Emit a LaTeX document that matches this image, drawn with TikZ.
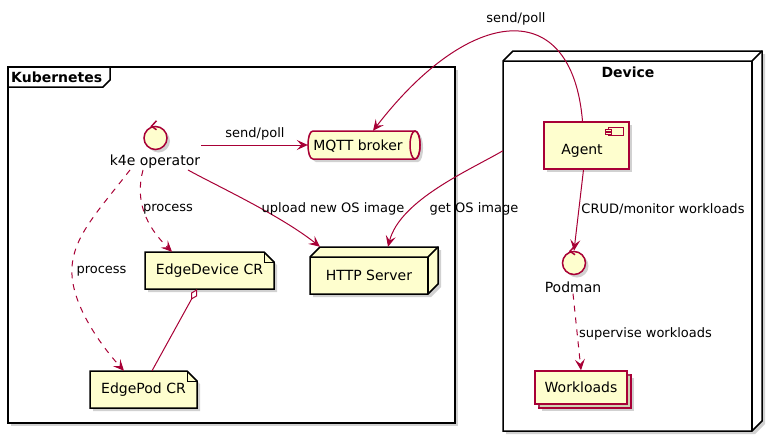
\documentclass[tikz,border=0pt]{standalone}
\usepackage{fontspec}
\setmainfont{DejaVu Sans}
\usetikzlibrary{arrows.meta,shadows,calc}
\definecolor{pfill}{HTML}{FEFECE}
\definecolor{pred}{HTML}{A80036}
\tikzset{
  dshadow/.style={drop shadow={shadow xshift=3pt, shadow yshift=-3pt, fill=black!45, opacity=0.4}},
  redshape/.style={draw=pred, fill=pfill, line width=1.5pt, dshadow},
  blkshape/.style={draw=black, fill=pfill, line width=1.5pt, dshadow},
  frameshape/.style={draw=black, fill=white, line width=1.5pt, dshadow},
  anchorbox/.style={draw=none, fill=none, inner sep=0pt},
  txt/.style={font=\fontsize{14}{16}\selectfont, inner sep=1pt},
  lbl/.style={font=\fontsize{13}{15}\selectfont, inner sep=1pt},
  boldtxt/.style={font=\bfseries\fontsize{14}{16}\selectfont, inner sep=0pt},
  conn/.style={draw=pred, line width=1pt, -{Stealth[length=11pt,width=10pt,inset=4.5pt]}},
  dconn/.style={conn, dash pattern=on 6pt off 6pt},
}
\begin{document}
\begin{tikzpicture}[x=1pt, y=-1pt]
\useasboundingbox (0,0) rectangle (776,437);

% ---------- Kubernetes frame ----------
\node[frameshape, minimum width=447pt, minimum height=356pt, inner sep=0pt] (k8s) at (231.5,245) {};
\draw[line width=1.5pt] (8,87) -- (103,87) -- (110,80) -- (110,67);
\node[boldtxt, anchor=west] (k8stitle) at (11,77) {Kubernetes};

% ---------- Device node ----------
\path[frameshape] (503,61) -- (513,51) -- (762,51) -- (762,421) -- (752,431) -- (503,431) -- cycle;
\draw[line width=1.5pt] (503,61) -- (752,61) -- (762,51);
\draw[line width=1.5pt] (752,61) -- (752,431);
\node[anchorbox, minimum width=249pt, minimum height=370pt] (device) at (627.5,246) {};
\node[boldtxt] (devtitle) at (628,72) {Device};

% ---------- k4e operator (control) ----------
\node[redshape, circle, minimum size=23pt, inner sep=0pt] (k4e) at (155.5,138) {};
\draw[pred, line width=1.5pt] ($(k4e.north)+(1,-5)$) -- ($(k4e.north)+(-4,0.5)$) -- ($(k4e.north)+(1,4)$);
\node[txt] (k4elbl) at (155,162) {k4e operator};

% ---------- MQTT broker (queue) ----------
\path[redshape] (313,131) -- (415,131) .. controls (421.7,131) and (421.7,159) .. (415,159) -- (313,159) .. controls (306.3,159) and (306.3,131) .. (313,131) -- cycle;
\draw[pred, fill=pfill, line width=1.5pt] (415,145) ellipse [x radius=5, y radius=14];
\node[anchorbox, minimum width=112pt, minimum height=28pt] (mqtt) at (364,145) {};
\node[txt] (mqtttext) at (358,146) {MQTT broker};

% ---------- HTTP Server (node) ----------
\path[blkshape] (310,257) -- (320,247) -- (438,247) -- (438,284) -- (428,294) -- (310,294) -- cycle;
\draw[line width=1.5pt] (310,257) -- (428,257) -- (438,247);
\draw[line width=1.5pt] (428,257) -- (428,294);
\node[anchorbox, txt, minimum width=118pt, minimum height=37pt, inner sep=0pt] (http) at (369,275.5) {HTTP Server};

% ---------- EdgeDevice CR (note) ----------
\path[blkshape] (145,252) -- (264,252) -- (274,262) -- (274,289) -- (145,289) -- cycle;
\draw[line width=1pt] (264,252) -- (264,262) -- (274,262);
\node[anchorbox, txt, minimum width=129pt, minimum height=37pt, inner sep=0pt] (edgedev) at (209.5,270.5) {EdgeDevice CR};

% ---------- EdgePod CR (note) ----------
\path[blkshape] (90,371) -- (187,371) -- (197,381) -- (197,408) -- (90,408) -- cycle;
\draw[line width=1pt] (187,371) -- (187,381) -- (197,381);
\node[anchorbox, txt, minimum width=107pt, minimum height=37pt, inner sep=0pt] (edgepod) at (143.5,389.5) {EdgePod CR};

% ---------- Agent (component) ----------
\node[redshape, minimum width=85pt, minimum height=47pt, inner sep=0pt] (agent) at (586.5,145.5) {};
\draw[pred, fill=pfill, line width=1pt] (608,127) rectangle (623,135);
\draw[pred, fill=pfill, line width=1pt] (605.5,129.5) rectangle (611,131.5);
\draw[pred, fill=pfill, line width=1pt] (605.5,132.5) rectangle (611,134.5);
\node[txt] (agenttext) at (582,151) {Agent};

% ---------- Podman (control) ----------
\node[redshape, circle, minimum size=23pt, inner sep=0pt] (podman) at (574,263) {};
\draw[pred, line width=1.5pt] ($(podman.north)+(1,-5)$) -- ($(podman.north)+(-4,0.5)$) -- ($(podman.north)+(1,4)$);
\node[txt] (podmanlbl) at (573,287) {Podman};

% ---------- Workloads (collections) ----------
\node[redshape, minimum width=92pt, minimum height=33pt, inner sep=0pt] (workloadsback) at (585,391.5) {};
\node[redshape, txt, minimum width=92pt, minimum height=33pt, inner sep=0pt] (workloads) at (581,387.5) {Workloads};

% ---------- Connectors ----------
\draw[conn] (k4elbl.east |- mqtt.west) -- (mqtt.west);
\node[lbl] (l1) at (255,134) {send/poll};

\draw[dconn] ($(k4elbl.south)+(-12,0)$) .. controls (135,200) and (145,225) .. ($(edgedev.north)+(-37.5,0)$);
\node[lbl] (l2) at (168,209) {process};

\draw[dconn] ($(k4elbl.south)+(-25,0)$) .. controls (95,215) and (70,240) .. (72,275) .. controls (74,310) and (105,350) .. ($(edgepod.north)+(-19.5,0)$);
\node[lbl] (l3) at (101.5,271) {process};

\draw[conn] ($(k4elbl.south)+(33,0)$) .. controls (215,185) and (280,215) .. ($(http.north)+(-49,-10)$);
\node[lbl] (l4) at (333,209) {upload new OS image};

\draw[conn] ($(device.north west)!0.243!(device.south west)$) .. controls (470,170) and (400,200) .. ($(http.north)+(19,-10)$);
\node[lbl] (l5) at (474,209) {get OS image};

\draw[conn] ($(agent.north)+(-4,0)$) .. controls (572,-5) and (470,5) .. ($(mqtt.north)+(9,0)$);
\node[lbl] (l6) at (516,19) {send/poll};

\draw[conn] ($(agent.south)+(-3,0)$) -- (podman.north);
\node[lbl] (l7) at (663,209) {CRUD/monitor workloads};

\draw[dconn] (podmanlbl.south) -- (workloads.north);
\node[lbl] (l8) at (645.5,334) {supervise workloads};

\draw[draw=pred, line width=1pt, {Diamond[fill=white,length=12pt,width=7pt]}-] ($(edgedev.south)+(-12.5,0)$) -- ($(edgepod.north)+(8.5,0)$);

\end{tikzpicture}
\end{document}
